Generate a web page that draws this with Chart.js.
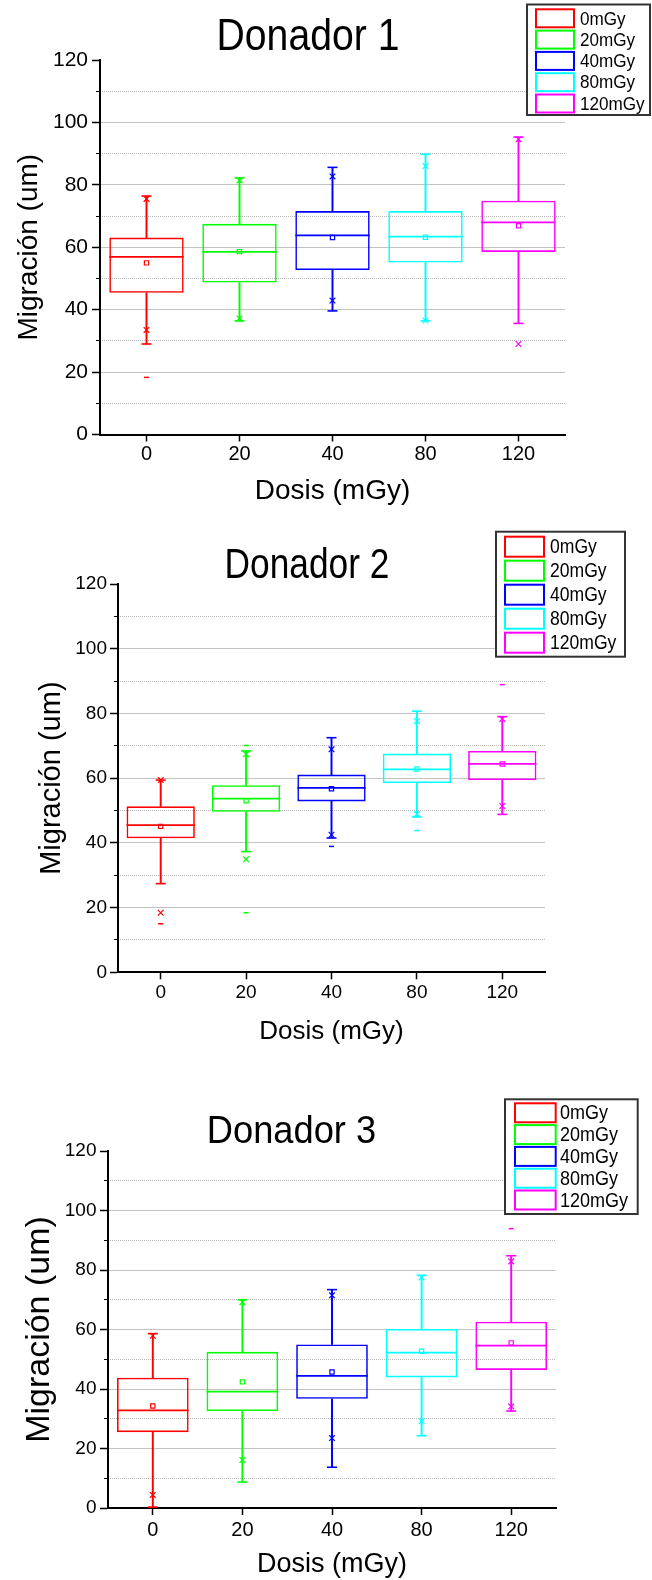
<!DOCTYPE html>
<html>
<head>
<meta charset="utf-8">
<title>Migración por dosis - Donadores 1 a 3</title>
<script src="https://cdn.jsdelivr.net/npm/chart.js@4.4.1/dist/chart.umd.min.js"></script>
<style>
  html, body { margin: 0; padding: 0; background: #fff; overflow: hidden; }
  canvas { position: absolute; left: 0; }
</style>
</head>
<body>
<canvas id="chart1" width="652" height="520" style="top:0px"></canvas>
<canvas id="chart2" width="652" height="530" style="top:520px"></canvas>
<canvas id="chart3" width="652" height="530" style="top:1050px"></canvas>
<script>
// categories and series names
const doses = ['0', '20', '40', '80', '120'];
const seriesNames = ['0mGy', '20mGy', '40mGy', '80mGy', '120mGy'];
const doseColors = ['#ff0000', '#00ff00', '#0000ff', '#00ffff', '#ff00ff'];
const yTickValues = [0, 20, 40, 60, 80, 100, 120];

// Donador 1
const d1Low    = [29.0, 36.4, 39.6, 36.4, 35.6];
const d1Q1     = [45.4, 48.7, 52.7, 55.1, 58.5];
const d1Median = [56.9, 58.5, 63.8, 63.4, 68.0];
const d1Q3     = [63.1, 67.5, 71.6, 71.6, 74.9];
const d1High   = [76.4, 82.2, 85.6, 89.8, 95.3];
const d1Mean   = [55.0, 58.6, 63.1, 63.2, 66.9];
const d1P1     = [33.5, 37.2, 42.9, 36.5, 29.0];
const d1P99    = [75.5, 81.4, 82.7, 86.0, 94.6];
const d1Min    = [18.3, null, null, null, null];
const d1Max    = [null, null, null, null, null];

// Donador 2
const d2Low    = [27.4, 37.3, 41.5, 48.0, 48.8];
const d2Q1     = [41.4, 49.6, 52.8, 58.5, 59.4];
const d2Median = [45.5, 53.7, 57.0, 62.7, 64.4];
const d2Q3     = [51.3, 57.8, 61.1, 67.6, 68.4];
const d2High   = [59.4, 68.4, 72.5, 80.7, 79.0];
const d2Mean   = [45.1, 53.0, 56.7, 62.8, 64.4];
const d2P1     = [18.4, 34.9, 42.5, 48.9, 51.4];
const d2P99    = [59.4, 67.4, 68.9, 77.6, 78.3];
const d2Min    = [15.0, 18.4, 38.9, 43.8, null];
const d2Max    = [null, 70.1, null, null, 88.9];

// Donador 3
const d3Low    = [0.3, 8.7, 13.7, 24.3, 32.6];
const d3Q1     = [25.5, 32.6, 36.7, 43.9, 46.4];
const d3Median = [32.8, 39.1, 44.4, 52.2, 54.6];
const d3Q3     = [43.8, 52.5, 55.0, 60.2, 62.6];
const d3High   = [58.6, 70.0, 73.4, 78.2, 84.8];
const d3Mean   = [34.3, 42.4, 45.7, 52.7, 55.5];
const d3P1     = [4.4, 16.1, 23.5, 29.2, 34.1];
const d3P99    = [57.9, 69.2, 71.5, 77.5, 82.9];
const d3Min    = [null, null, null, null, null];
const d3Max    = [null, null, null, null, 93.9];

const fontFamily = "'Liberation Sans', Arial, sans-serif";
Chart.defaults.font.family = fontFamily;
Chart.defaults.color = '#000';

const yMax = yTickValues[yTickValues.length - 1];
const noColor = 'rgba(0,0,0,0)';

// title + framed legend drawn over the plot, like the original figure
const headerPlugin = {
    id: 'header',
    afterDraw(chart, args, opts) {
        const ctx = chart.ctx;
        ctx.save();
        ctx.fillStyle = '#000';
        ctx.textAlign = 'center';
        ctx.textBaseline = 'alphabetic';
        ctx.font = opts.titleSize + 'px ' + fontFamily;
        ctx.translate(opts.titleX, opts.titleBase);
        ctx.scale(opts.squeeze, 1);
        ctx.fillText(opts.text, 0, 0);
        ctx.restore();

        const lg = opts.legend;
        ctx.save();
        ctx.fillStyle = '#fff';
        ctx.fillRect(lg.left, lg.top, lg.right - lg.left, lg.bottom - lg.top);
        ctx.strokeStyle = '#333';
        ctx.lineWidth = 2;
        ctx.strokeRect(lg.left, lg.top, lg.right - lg.left, lg.bottom - lg.top);
        seriesNames.forEach((name, i) => {
            const top = lg.firstTop + i * lg.step;
            ctx.strokeStyle = doseColors[i];
            ctx.lineWidth = 2;
            ctx.strokeRect(lg.swatchX, top, lg.swatchW, lg.swatchH);
            ctx.save();
            ctx.fillStyle = '#000';
            ctx.font = lg.size + 'px ' + fontFamily;
            ctx.textAlign = 'left';
            ctx.textBaseline = 'middle';
            ctx.translate(lg.textX, top + lg.swatchH / 2 + 1);
            ctx.scale(0.9, 1);
            ctx.fillText(name, 0, 0);
            ctx.restore();
        });
        ctx.restore();
    }
};

function boxChart(canvasId, title, s, look) {
    const pairs = (a, b) => a.map((v, i) => [v, b[i]]);
    const marks = (data, style, radius, width) => ({
        type: 'line',
        data: data,
        showLine: false,
        clip: false,
        pointStyle: style,
        pointRadius: radius,
        pointBorderWidth: width,
        pointBorderColor: doseColors,
        pointBackgroundColor: noColor
    });
    const halfBox = (c) => c.chart.scales.x.width / doses.length * 0.4;

    return new Chart(document.getElementById(canvasId), {
        type: 'bar',
        data: {
            labels: doses,
            datasets: [
                { data: pairs(s.q1, s.q3), backgroundColor: noColor, borderColor: doseColors,
                  borderWidth: 1.6, borderSkipped: false, grouped: false,
                  barPercentage: 1, categoryPercentage: 0.8 },
                { data: pairs(s.low, s.q1), backgroundColor: doseColors, borderWidth: 0,
                  barThickness: 1.3, grouped: false },
                { data: pairs(s.q3, s.high), backgroundColor: doseColors, borderWidth: 0,
                  barThickness: 1.3, grouped: false },
                marks(s.median, 'line', halfBox, 1.8),
                marks(s.low, 'line', 5, 1.6),
                marks(s.high, 'line', 5, 1.6),
                marks(s.mean, 'rect', 3, 1.2),
                marks(s.p1, 'crossRot', 4, 1.2),
                marks(s.p99, 'crossRot', 4, 1.2),
                marks(s.min, 'line', 2.5, 1.5),
                marks(s.max, 'line', 2.5, 1.5)
            ]
        },
        options: {
            responsive: false,
            animation: false,
            devicePixelRatio: 1,
            events: [],
            layout: { padding: { left: 0, top: look.top, right: look.right, bottom: 0 } },
            plugins: {
                legend: { display: false },
                tooltip: { enabled: false },
                header: {
                    text: title, titleX: look.titleX, titleBase: look.titleBase,
                    titleSize: look.titleSize, squeeze: look.squeeze, legend: look.legend
                }
            },
            scales: {
                x: {
                    type: 'category',
                    offset: true,
                    border: { color: '#000', width: 2 },
                    grid: { drawOnChartArea: false, offset: false, tickLength: 7, tickColor: '#000', tickWidth: 1.5 },
                    ticks: { font: { size: look.xTickSize }, padding: look.xTickPad, color: '#000' },
                    title: { display: true, text: 'Dosis (mGy)', color: '#000',
                             font: { size: look.xTitleSize, lineHeight: 1 },
                             padding: { top: 0, bottom: look.xTitlePad } },
                    afterFit: (sc) => { sc.height = look.xHeight; }
                },
                y: {
                    type: 'linear',
                    position: 'left',
                    weight: 1,
                    min: 0,
                    max: yMax,
                    border: { color: '#000', width: 2 },
                    grid: {
                        color: (c) => (c.tick.value > 0 && c.tick.value < yMax) ? '#c2c2c2' : noColor,
                        tickLength: 8, tickColor: '#000', tickWidth: 1.5
                    },
                    afterBuildTicks: (sc) => { sc.ticks = yTickValues.map(v => ({ value: v })); },
                    ticks: { font: { size: look.yTickSize }, padding: look.yTickPad, color: '#000' },
                    title: { display: true, text: 'Migración (um)', color: '#000',
                             font: { size: look.yTitleSize, lineHeight: 1.2 },
                             padding: { top: look.yTitlePad, bottom: 0 } },
                    afterFit: (sc) => { sc.width = look.left; }
                },
                yMinor: {
                    type: 'linear',
                    position: 'left',
                    axis: 'y',
                    weight: 0,
                    min: 0,
                    max: yMax,
                    border: { display: false, dash: [1, 1] },
                    grid: {
                        color: (c) => c.tick.value % 20 ? '#b8b8b8' : noColor,
                        tickColor: (c) => c.tick.value % 20 ? '#000' : noColor,
                        tickLength: 4, tickWidth: 1
                    },
                    ticks: { display: false, stepSize: 10 },
                    afterFit: (sc) => { sc.width = 0; }
                }
            }
        },
        plugins: [headerPlugin]
    });
}

boxChart('chart1', 'Donador 1',
    { low: d1Low, q1: d1Q1, median: d1Median, q3: d1Q3, high: d1High,
      mean: d1Mean, p1: d1P1, p99: d1P99, min: d1Min, max: d1Max },
    { top: 60, right: 87, left: 100, xHeight: 85.5,
      yTickSize: 21, yTickPad: 4, xTickSize: 20, xTickPad: 1,
      yTitleSize: 28, yTitlePad: 12, xTitleSize: 28, xTitlePad: 15,
      titleX: 308, titleBase: 50, titleSize: 44, squeeze: 0.89,
      legend: { left: 527, top: 4.5, right: 650, bottom: 115, swatchX: 536, swatchW: 38,
                swatchH: 18, firstTop: 9.3, step: 21.3, textX: 580, size: 19 } });

boxChart('chart2', 'Donador 2',
    { low: d2Low, q1: d2Q1, median: d2Median, q3: d2Q3, high: d2High,
      mean: d2Mean, p1: d2P1, p99: d2P99, min: d2Min, max: d2Max },
    { top: 64, right: 107, left: 118, xHeight: 77.7,
      yTickSize: 19, yTickPad: 3, xTickSize: 19, xTickPad: 2,
      yTitleSize: 29, yTitlePad: 34.6, xTitleSize: 26, xTitlePad: 5,
      titleX: 307, titleBase: 58.3, titleSize: 42, squeeze: 0.84,
      legend: { left: 496, top: 11.7, right: 625, bottom: 136.7, swatchX: 505, swatchW: 39,
                swatchH: 20, firstTop: 16.7, step: 24, textX: 550, size: 19.5 } });

boxChart('chart3', 'Donador 3',
    { low: d3Low, q1: d3Q1, median: d3Median, q3: d3Q3, high: d3High,
      mean: d3Mean, p1: d3P1, p99: d3P99, min: d3Min, max: d3Max },
    { top: 101, right: 96, left: 108, xHeight: 72,
      yTickSize: 19, yTickPad: 3.5, xTickSize: 20, xTickPad: 3,
      yTitleSize: 34, yTitlePad: 19, xTitleSize: 27, xTitlePad: 1.5,
      titleX: 291.5, titleBase: 92.8, titleSize: 39, squeeze: 0.93,
      legend: { left: 505, top: 49.3, right: 637.7, bottom: 164, swatchX: 515, swatchW: 40.7,
                swatchH: 19, firstTop: 53.3, step: 21.8, textX: 560, size: 20 } });
</script>
</body>
</html>
